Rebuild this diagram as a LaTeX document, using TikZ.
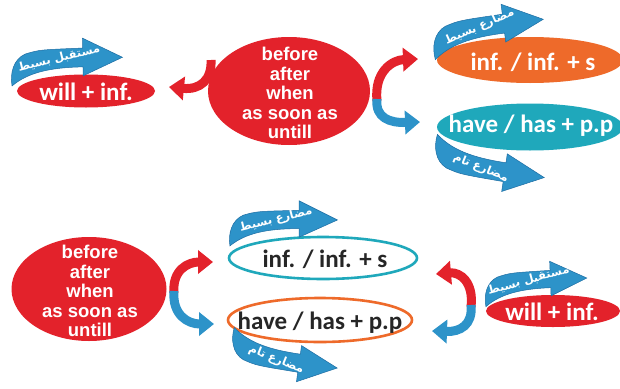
\documentclass[tikz,border=0pt]{standalone}
\usepackage{fontspec}
\usetikzlibrary{arrows.meta,shapes.geometric}
\TeXXeTstate=1
\newfontfamily\calfont{Carlito}
\newfontfamily\arialfont{Liberation Sans}
\newfontfamily\arabicfont[Script=Arabic]{DejaVu Sans}

\definecolor{cred}{HTML}{E3222B}
\definecolor{corange}{HTML}{EE6A2A}
\definecolor{cteal}{HTML}{1FA8BB}
\definecolor{cblue}{HTML}{2D93C9}
\definecolor{cbluedark}{HTML}{1D6DA3}
\definecolor{ctext}{HTML}{262626}

\tikzset{
  blob/.style={ellipse, inner sep=0pt, outer sep=0pt},
  redblob/.style={blob, fill=cred},
  orangeblob/.style={blob, fill=corange},
  tealblob/.style={blob, fill=cteal},
  tealring/.style={blob, fill=white, draw=cteal, line width=2.6pt},
  orangering/.style={blob, fill=white, draw=corange, line width=2.6pt},
  formula/.style={inner sep=0pt, text=white, font=\calfont\bfseries\fontsize{25}{25}\selectfont},
  darkformula/.style={formula, text=ctext},
  wordlist/.style={inner sep=0pt, text=white, align=center,
    font=\arialfont\bfseries\fontsize{18.5}{19.6}\selectfont},
  turn/.style={line width=9pt, -{Triangle[width=23pt,length=15pt]}},
  redturn/.style={turn, draw=cred},
  blueturn/.style={turn, draw=cblue},
  pics/bandarrow/.style 2 args={code={
    \fill[cblue, draw=cbluedark, line width=0.5pt]
      (2,3) .. controls (0,-10) and (4,-24) .. (16,-29)
      .. controls (30,-33) .. (74,-34) -- (74,-44) -- (114,-24)
      -- (74,-6) -- (74,-15) .. controls (40,-15) and (18,-10) .. (2,3) -- cycle;
    \node[rotate=#2, text=white, inner sep=0pt,
          font=\arabicfont\bfseries\fontsize{11.5}{11.5}\selectfont] (-t) at (50,-24)
      {#1};
  }},
}

\begin{document}
\begin{tikzpicture}[x=1pt, y=-1pt]
  \fill[white] (0,0) rectangle (620,388);
  \useasboundingbox (0,0) rectangle (620,388);

  % ---------- upper group ----------
  \node[redblob, minimum width=138pt, minimum height=33pt] (willA) at (86,91) {};
  \node[formula] (willAt) at (86,92) {will + inf.};

  \node[redblob, minimum width=162pt, minimum height=108pt] (bigA) at (289,91) {};
  \node[wordlist] (bigAt) at (290,93) {before\\after\\when\\as soon as\\untill};

  \node[orangeblob, minimum width=186pt, minimum height=46pt] (presA) at (530,60) {};
  \node[formula] (presAt) at (533,62) {inf. / inf. + s};

  \node[tealblob, minimum width=186pt, minimum height=47pt] (perfA) at (530,127) {};
  \node[formula] (perfAt) at (531,126) {have / has + p.p};

  \coordinate (a1s) at (211,60);  \coordinate (a1e) at (169,87);
  \draw[redturn] (a1s) .. controls (212,80) and (200,90) .. (a1e);

  \coordinate (a2s) at (377,101); \coordinate (a2e) at (418,59);
  \coordinate (a3s) at (377,99);  \coordinate (a3e) at (420,122);
  \draw[redturn] (a2s) .. controls (374,72) and (392,60) .. (a2e);
  \draw[blueturn] (a3s) .. controls (375,118) and (390,123) .. (a3e);

  \pic[rotate=1, scale=0.99] (bandA) at (10,83) {bandarrow={\beginR مستقبل بسيط\endR}{14}};
  \pic[rotate=7, scale=1.0] (bandB) at (433,57) {bandarrow={\beginR مضارع بسيط\endR}{24}};
  \pic[rotate=-8.5, xscale=1.0, yscale=-1.0] (bandC) at (435,137) {bandarrow={\beginR مضارع تام\endR}{-22}};

  % ---------- lower group ----------
  \node[redblob, minimum width=155pt, minimum height=104pt] (bigB) at (89,289) {};
  \node[wordlist] (bigBt) at (90,291) {before\\after\\when\\as soon as\\untill};

  \node[tealring, minimum width=188pt, minimum height=42pt] (presB) at (323,258) {};
  \node[darkformula] (presBt) at (325,259) {inf. / inf. + s};

  \node[orangering, minimum width=184pt, minimum height=44pt] (perfB) at (320,320) {};
  \node[darkformula] (perfBt) at (320,323) {have / has + p.p};

  \node[redblob, minimum width=134pt, minimum height=32pt] (willB) at (553,311) {};
  \node[formula] (willBt) at (552,312) {will + inf.};

  \coordinate (b1s) at (174,293); \coordinate (b1e) at (213,262);
  \coordinate (b2s) at (174,291); \coordinate (b2e) at (214,324);
  \draw[redturn] (b1s) .. controls (172,270) and (188,262) .. (b1e);
  \draw[blueturn] (b2s) .. controls (172,315) and (188,324) .. (b2e);

  \coordinate (b3s) at (471,307); \coordinate (b3e) at (436,274);
  \coordinate (b4s) at (471,305); \coordinate (b4e) at (432,331);
  \draw[redturn] (b3s) .. controls (474,282) and (460,272) .. (b3e);
  \draw[blueturn] (b4s) .. controls (473,325) and (460,332) .. (b4e);

  \pic[scale=0.96] (bandD) at (228,243) {bandarrow={\beginR مضارع بسيط\endR}{14}};
  \pic[rotate=-8, xscale=0.96, yscale=-0.96] (bandE) at (232,330) {bandarrow={\beginR مضارع تام\endR}{-22}};
  \pic[rotate=2.3, scale=0.91] (bandF) at (484,304) {bandarrow={\beginR مستقبل بسيط\endR}{15}};
\end{tikzpicture}
\end{document}
